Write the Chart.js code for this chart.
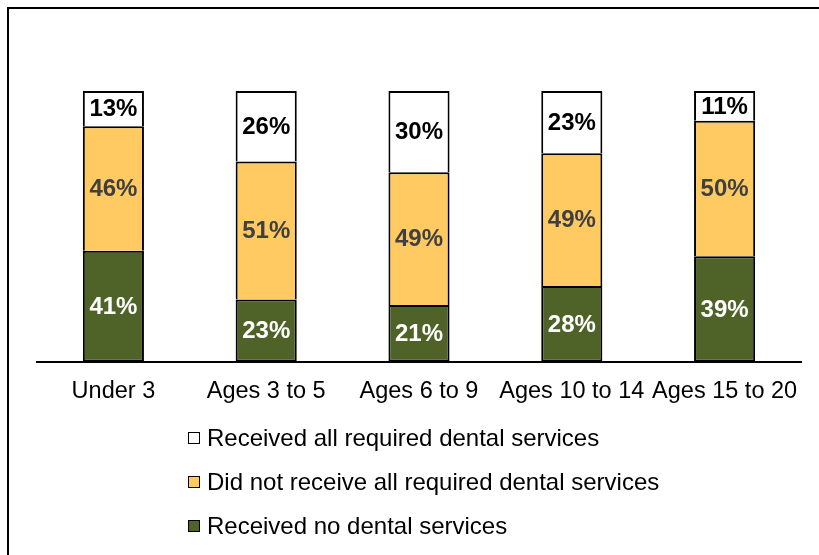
<!DOCTYPE html>
<html>
<head>
<meta charset="utf-8">
<script src="https://cdn.jsdelivr.net/npm/chart.js@4/dist/chart.umd.min.js"></script>
<style>
  html, body { margin: 0; padding: 0; background: #fff; overflow: hidden; }
  #wrap { position: relative; width: 819px; height: 555px; }
  #frame { position: absolute; left: 7px; top: 7px; width: 900px; height: 700px;
           border-top: 2px solid #000; border-left: 2px solid #000; }
  #legend { position: absolute; left: 188px; top: 416px; font-family: Arial, "Liberation Sans", sans-serif;
            font-size: 24px; color: #000; }
  #legend div { height: 44px; line-height: 44px; display: flex; align-items: center; }
  #legend span.box { display: inline-block; width: 10px; height: 10px; border: 1.5px solid #000; margin-right: 7px; }
</style>
</head>
<body>
<div id="wrap">
  <canvas id="canvas_1" width="819" height="555"></canvas>
  <div id="frame"></div>
  <div id="legend"></div>
</div>
<script>
// data
let labels = ["Under 3", "Ages 3 to 5", "Ages 6 to 9", "Ages 10 to 14", "Ages 15 to 20"];
let none_values = [41, 23, 21, 28, 39];
let partial_values = [46, 51, 49, 49, 50];
let all_values = [13, 26, 30, 23, 11];

// write the % inside each bar segment
const barLabels = {
  id: 'barLabels',
  afterDatasetsDraw(chart) {
    const ctx = chart.ctx;
    ctx.save();
    ctx.font = 'bold 24px Arial, "Liberation Sans", sans-serif';
    ctx.textAlign = 'center';
    ctx.textBaseline = 'middle';
    chart.data.datasets.forEach(function (ds, i) {
      let meta = chart.getDatasetMeta(i);
      meta.data.forEach(function (bar, j) {
        let p = bar.getProps(['x', 'y', 'base'], true);
        ctx.fillStyle = ds.labelColor;
        ctx.fillText(ds.data[j] + '%', p.x, (p.y + p.base) / 2 + 1);
      });
    });
    ctx.restore();
  }
};

let canvas = document.getElementById("canvas_1");
let ctx = canvas.getContext('2d');
let chart = new Chart(ctx, {
  type: 'bar',
  data: {
    labels: labels,
    datasets: [{
      label: 'Received no dental services',
      backgroundColor: '#4F6228',
      labelColor: '#ffffff',
      borderWidth: 2,
      data: none_values,
    }, {
      label: 'Did not receive all required dental services',
      backgroundColor: '#FFCA61',
      labelColor: '#404040',
      borderWidth: { top: 2, left: 2, right: 2, bottom: 0 },
      data: partial_values,
    }, {
      label: 'Received all required dental services',
      backgroundColor: '#ffffff',
      labelColor: '#000000',
      borderWidth: { top: 2, left: 2, right: 2, bottom: 0 },
      data: all_values,
    }]
  },
  options: {
    responsive: false,
    animation: false,
    devicePixelRatio: 1,
    layout: { padding: { left: 37, right: 18, top: 91, bottom: 133 } },
    datasets: {
      bar: {
        borderColor: '#000000',
        borderSkipped: false,
        categoryPercentage: 1.0,
        barPercentage: 0.4,
      }
    },
    scales: {
      x: {
        stacked: true,
        grid: { display: false, drawTicks: false },
        border: { display: true, color: '#000000', width: 2 },
        ticks: {
          color: '#000000',
          padding: 16,
          maxRotation: 0,
          autoSkip: false,
          font: { family: 'Arial, "Liberation Sans", sans-serif', size: 23.5 }
        }
      },
      y: {
        stacked: true,
        display: false,
        min: 0,
        max: 100
      }
    },
    plugins: {
      legend: { display: false },
      tooltip: { enabled: false }
    }
  },
  plugins: [barLabels]
});

// legend, top row is the top segment
let legend = document.getElementById('legend');
chart.data.datasets.slice().reverse().forEach(function (ds) {
  let row = document.createElement('div');
  let box = document.createElement('span');
  box.className = 'box';
  box.style.background = ds.backgroundColor;
  row.appendChild(box);
  row.appendChild(document.createTextNode(ds.label));
  legend.appendChild(row);
});
</script>
</body>
</html>
